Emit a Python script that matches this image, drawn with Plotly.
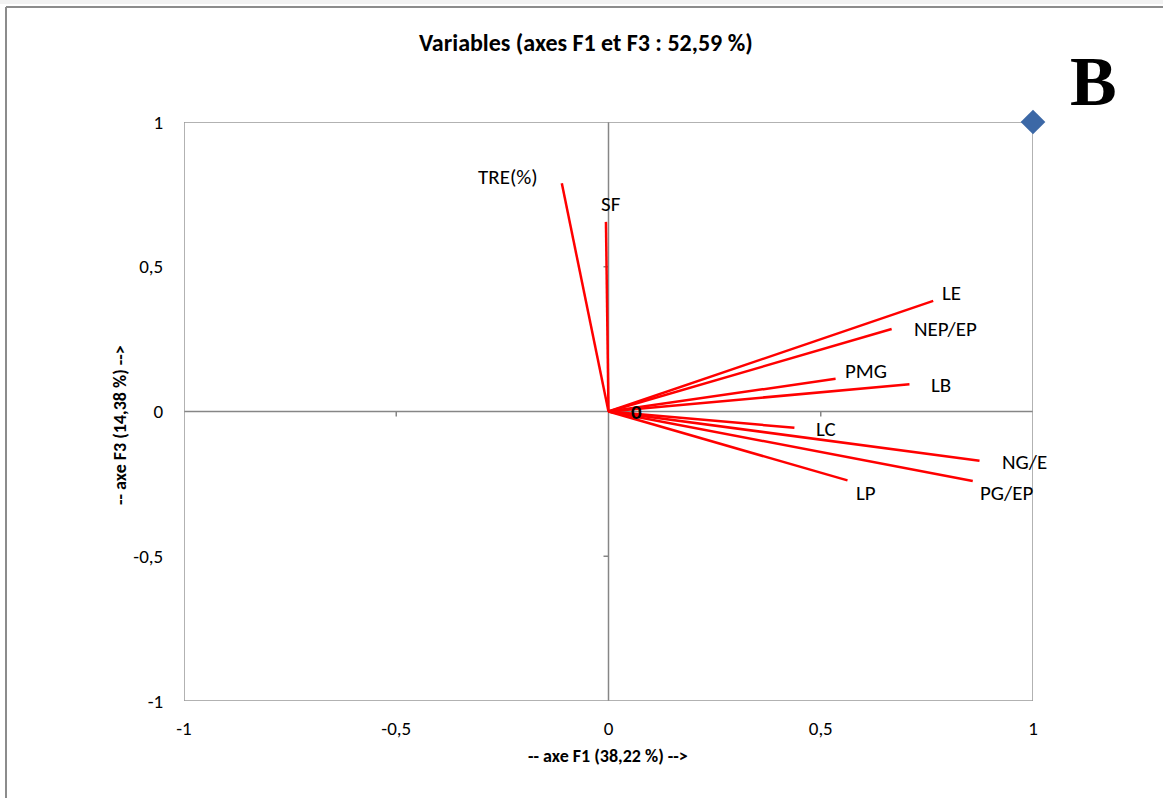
import plotly.graph_objects as go

# ---- data ----
variables = ["TRE(%)", "SF", "LE", "NEP/EP", "PMG", "LB", "LC", "NG/E", "PG/EP", "LP"]
f1 = [-0.110, -0.006, 0.765, 0.667, 0.535, 0.709, 0.438, 0.874, 0.858, 0.563]
f3 = [0.788, 0.655, 0.382, 0.285, 0.113, 0.094, -0.056, -0.170, -0.240, -0.238]
point_x = [1]
point_y = [1]
tick_vals = [-1, -0.5, 0, 0.5, 1]
tick_text = ["-1", "-0,5", "0", "0,5", "1"]
minor_ticks = [-0.5, 0.5]

# label offsets in pixels (layout only)
label_dx = [-54, 5, 18, 54, 30, 32, 32, 45, 34, 19]
label_dy = [6, 18, 8, 0, 8, -1, -1, -1, -12, -13]

W, H = 1163, 798
L, R, T, B = 184, 130, 122, 97
PW, PH = W - L - R, H - T - B

def px(x):
    return (x - L) / PW

def py(y):
    return (H - B - y) / PH

FONT = "Carlito, Lato, sans-serif"
GRAY = "#868686"

fig = go.Figure()

for name, x, y in zip(variables, f1, f3):
    fig.add_trace(go.Scatter(x=[0, x], y=[0, y], mode="lines",
                             line=dict(color="#ff0000", width=2.5),
                             showlegend=False, hoverinfo="skip", cliponaxis=False))

fig.add_trace(go.Scatter(x=point_x, y=point_y, mode="markers",
                         marker=dict(symbol="diamond", size=19, color="#3c68a6"),
                         showlegend=False, cliponaxis=False))

annotations = []
for name, x, y, dx, dy in zip(variables, f1, f3, label_dx, label_dy):
    annotations.append(dict(x=x, y=y, text=name, showarrow=False, xshift=dx, yshift=dy,
                            xanchor="center", yanchor="middle",
                            font=dict(family=FONT, size=21, color="#000000")))
annotations.append(dict(x=0, y=0, text="<b>0</b>", showarrow=False, xshift=28, yshift=0,
                        xanchor="center", yanchor="middle",
                        font=dict(family=FONT, size=21, color="#000000")))

# title, axis titles, panel letter
def paper_text(xp, yp, text, size, family=FONT, angle=0):
    return dict(x=px(xp), y=py(yp), xref="paper", yref="paper", text=text, showarrow=False,
                xanchor="center", yanchor="middle", textangle=angle,
                font=dict(family=family, size=size, color="#000000"))

annotations.append(paper_text(586, 42, "<b>Variables (axes F1 et F3 : 52,59 %)</b>", 24))
annotations.append(paper_text(608, 756, "<b>-- axe F1 (38,22 %) --></b>", 18))
annotations.append(paper_text(120, 425, "<b>-- axe F3 (14,38 %) --></b>", 18, angle=-90))
annotations.append(paper_text(1093, 81, "<b>B</b>", 70,
                              family="Liberation Serif, DejaVu Serif, serif"))

shapes = []
# zero lines
shapes.append(dict(type="line", x0=-1, x1=1, y0=0, y1=0, xref="x", yref="y",
                   line=dict(color=GRAY, width=1.5), layer="below"))
shapes.append(dict(type="line", x0=0, x1=0, y0=-1, y1=1, xref="x", yref="y",
                   line=dict(color=GRAY, width=1.5), layer="below"))
# minor tick marks on zero lines
for v in minor_ticks:
    shapes.append(dict(type="line", xref="x", yref="y", x0=v, x1=v, ysizemode="pixel",
                       yanchor=0, y0=0, y1=-5, line=dict(color=GRAY, width=1.5), layer="below"))
    shapes.append(dict(type="line", xref="x", yref="y", y0=v, y1=v, xsizemode="pixel",
                       xanchor=0, x0=0, x1=-5, line=dict(color=GRAY, width=1.5), layer="below"))
# plot area border
shapes.append(dict(type="rect", x0=-1, x1=1, y0=-1, y1=1, xref="x", yref="y",
                   line=dict(color="#999999", width=1.5), layer="below"))
# chart frame (top and left edges visible)
shapes.append(dict(type="rect", x0=px(0), x1=px(W), y0=py(0), y1=py(4), xref="paper", yref="paper",
                   line=dict(width=0), fillcolor="#f2f2f2", layer="below"))
shapes.append(dict(type="line", x0=px(6), x1=px(W + 5), y0=py(7), y1=py(7), xref="paper", yref="paper",
                   line=dict(color="#8c8c8c", width=2), layer="below"))
shapes.append(dict(type="line", x0=px(6), x1=px(6), y0=py(7), y1=py(H + 5), xref="paper", yref="paper",
                   line=dict(color="#8c8c8c", width=2), layer="below"))

fig.update_layout(
    width=W, height=H,
    margin=dict(l=L, r=R, t=T, b=B, pad=0),
    paper_bgcolor="white", plot_bgcolor="white",
    xaxis=dict(range=[-1, 1], tickvals=tick_vals, ticktext=tick_text, showgrid=False,
               zeroline=False, showline=False, ticks="outside", ticklen=10,
               tickcolor="rgba(0,0,0,0)", tickfont=dict(family=FONT, size=19, color="#000"),
               fixedrange=True),
    yaxis=dict(range=[-1, 1], tickvals=tick_vals, ticktext=tick_text, showgrid=False,
               zeroline=False, showline=False, ticks="outside", ticklen=16,
               tickcolor="rgba(0,0,0,0)", tickfont=dict(family=FONT, size=19, color="#000"),
               fixedrange=True),
    annotations=annotations,
    shapes=shapes,
    showlegend=False,
)

fig.write_html("out.html")
